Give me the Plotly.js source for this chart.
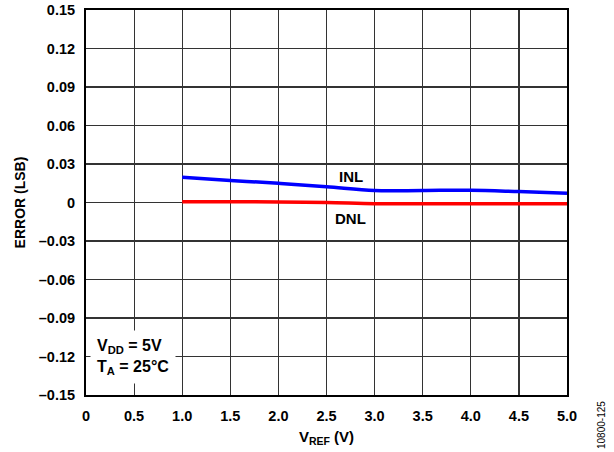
<!DOCTYPE html>
<html>
<head>
<meta charset="utf-8">
<script src="https://cdn.plot.ly/plotly-3.0.1.min.js"></script>
<style>html,body{margin:0;padding:0;background:#fff;}#chart{width:614px;height:452px;}</style>
</head>
<body>
<div id="chart"></div>
<script>
const vref = [1.0, 1.5, 2.0, 2.5, 3.0, 3.5, 4.0, 4.5, 5.0];
const inl = [0.0197, 0.0172, 0.0150, 0.0123, 0.0093, 0.0094, 0.0096, 0.0085, 0.0072];
const dnl = [0.0006, 0.0006, 0.0004, 0.0000, -0.0009, -0.0010, -0.0009, -0.0009, -0.0010];
const xTickVals = [0, 0.5, 1.0, 1.5, 2.0, 2.5, 3.0, 3.5, 4.0, 4.5, 5.0];
const xTickText = ["0", "0.5", "1.0", "1.5", "2.0", "2.5", "3.0", "3.5", "4.0", "4.5", "5.0"];
const yTickVals = [0.15, 0.12, 0.09, 0.06, 0.03, 0, -0.03, -0.06, -0.09, -0.12, -0.15];
const yTickText = ["0.15", "0.12", "0.09", "0.06", "0.03", "0", "\u20130.03", "\u20130.06", "\u20130.09", "\u20130.12", "\u20130.15"];

const FAM = "Liberation Sans, Arial, sans-serif";
const tickFont = {family: FAM, size: 14.5, color: "#000", weight: "bold"};
const labelFont = {family: FAM, size: 15, color: "#000"};

const traces = [
  {x: vref, y: inl, mode: "lines", line: {color: "#0000ff", width: 3.5, shape: "spline"}, hoverinfo: "skip"},
  {x: vref, y: dnl, mode: "lines", line: {color: "#ff0000", width: 3.5, shape: "spline"}, hoverinfo: "skip"}
];

const layout = {
  width: 614, height: 452,
  margin: {l: 86, r: 47, t: 10, b: 57},
  paper_bgcolor: "#fff", plot_bgcolor: "#fff",
  showlegend: false,
  font: labelFont,
  xaxis: {
    range: [0, 5], tickvals: xTickVals, ticktext: xTickText,
    showgrid: true, gridcolor: "#333", gridwidth: 1.2,
    zeroline: false, showline: true, mirror: true, linecolor: "#000", linewidth: 2,
    ticks: "", ticklen: 0, ticklabelstandoff: 7,
    tickfont: tickFont,
    title: {text: "<b>V<sub>REF</sub> (V)</b>", font: {family: FAM, size: 15, color: "#000"}, standoff: 8}
  },
  yaxis: {
    range: [-0.15, 0.15], tickvals: yTickVals, ticktext: yTickText,
    showgrid: true, gridcolor: "#333", gridwidth: 1.2,
    zeroline: false, showline: true, mirror: true, linecolor: "#000", linewidth: 2,
    ticks: "", ticklen: 0, ticklabelstandoff: 6,
    tickfont: tickFont,
    title: {text: "<b>ERROR (LSB)</b>", font: {family: FAM, size: 14, color: "#000"}, standoff: 10}
  },
  annotations: [
    {x: 2.75, y: 0.0205, xref: "x", yref: "y", text: "<b>INL</b>", showarrow: false, font: labelFont},
    {x: 2.75, y: -0.0128, xref: "x", yref: "y", text: "<b>DNL</b>", showarrow: false, font: labelFont},
    {x: 0.04, y: -0.1205, xref: "x", yref: "y", xanchor: "left", yanchor: "middle", align: "left",
     text: "<b>V<sub>DD</sub> = 5V<br>T<sub>A</sub> = 25°C</b>", showarrow: false, bgcolor: "#fff",
     borderpad: 6, font: {family: FAM, size: 16, color: "#000"}},
    {xref: "paper", yref: "paper", text: "10800-125", showarrow: false, textangle: -90,
     xanchor: "center", yanchor: "middle",
     font: {family: FAM, size: 10, color: "#000"}}
  ]
};
const pw = 614 - 86 - 47, ph = 452 - 10 - 57;
layout.annotations[3].x = (601 - 86) / pw;
layout.annotations[3].y = 1 - (425 - 10) / ph;

Plotly.newPlot("chart", traces, layout, {staticPlot: true, displayModeBar: false});
</script>
</body>
</html>
